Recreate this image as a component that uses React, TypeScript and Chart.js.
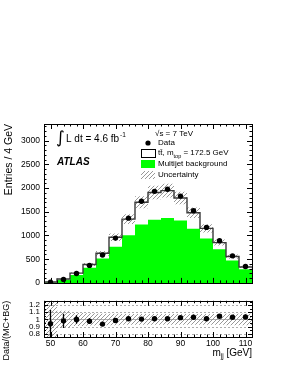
import React, { useEffect, useRef } from "react";
import { Chart, registerables } from "chart.js";

Chart.register(...registerables);

// ---------- data ----------
const binCenters = [50, 54, 58, 62, 66, 70, 74, 78, 82, 86, 90, 94, 98, 102, 106, 110];
const binWidth = 4;
const dataCounts = [16, 72, 199, 369, 588, 945, 1365, 1720, 1930, 1975, 1830, 1520, 1170, 890, 570, 345];
const totalPrediction = [18, 82, 207, 388, 625, 962, 1345, 1700, 1905, 1945, 1790, 1480, 1150, 850, 555, 335];
const multijetBackground = [8, 65, 165, 322, 514, 760, 1007, 1233, 1329, 1370, 1315, 1144, 938, 712, 473, 288];
const relUncertainty = [0.3, 0.12, 0.09, 0.085, 0.08, 0.08, 0.075, 0.075, 0.075, 0.075, 0.075, 0.075, 0.075, 0.075, 0.08, 0.08];
const ratioValues = [0.94, 0.98, 1.0, 0.975, 0.935, 0.985, 1.01, 1.005, 1.01, 1.01, 1.025, 1.03, 1.01, 1.045, 1.03, 1.035];
const ratioErrors = [0.19, 0.1, 0.06, 0.04, 0.025, 0.02, 0.015, 0.015, 0.015, 0.015, 0.015, 0.015, 0.02, 0.02, 0.025, 0.03];

const xTickValues = [50, 60, 70, 80, 90, 100, 110];
const yMainTickValues = [0, 500, 1000, 1500, 2000, 2500, 3000];
const yRatioTickValues = [0.8, 0.9, 1.0, 1.1, 1.2];

const FONT = '"Liberation Sans", Arial, Helvetica, sans-serif';

// histogram outline: left edge of first bin, then each bin's right edge ("after" stepping)
function stepPoints(vals: number[]) {
  const pts = [{ x: binCenters[0] - binWidth / 2, y: vals[0] }];
  binCenters.forEach((c, i) => pts.push({ x: c + binWidth / 2, y: vals[i] }));
  return pts;
}

function makeHatch(): CanvasPattern | string {
  const c = document.createElement("canvas");
  c.width = 4;
  c.height = 4;
  const g = c.getContext("2d");
  if (!g) return "#aaa";
  g.strokeStyle = "#8c8c8c";
  g.lineWidth = 0.9;
  g.beginPath();
  g.moveTo(0, 4);
  g.lineTo(4, 0);
  g.moveTo(-1, 1);
  g.lineTo(1, -1);
  g.moveTo(3, 5);
  g.lineTo(5, 3);
  g.stroke();
  return g.createPattern(c, "repeat") || "#aaa";
}

function drawFrameTicks(chart: any, cfg: { xMajor: number; xMinor: number; yMajor: number; yMinor: number; yMinorStep: number }) {
  const { ctx, chartArea } = chart;
  const xs = chart.scales.x;
  const ys = chart.scales.y;
  const { left, right, top, bottom } = chartArea;
  ctx.save();
  ctx.strokeStyle = "#000";
  ctx.lineWidth = 1;
  ctx.beginPath();
  for (let v = xs.min; v <= xs.max + 1e-9; v += 2) {
    const px = Math.round(xs.getPixelForValue(v)) + 0.5;
    const major = xTickValues.some((t) => Math.abs(t - v) < 1e-6);
    const len = major ? cfg.xMajor : cfg.xMinor;
    ctx.moveTo(px, bottom);
    ctx.lineTo(px, bottom - len);
    ctx.moveTo(px, top);
    ctx.lineTo(px, top + len);
  }
  const majors = ys.ticks.map((t: any) => t.value);
  const start = Math.ceil(ys.min / cfg.yMinorStep - 1e-9) * cfg.yMinorStep;
  for (let v = start; v <= ys.max + 1e-9; v += cfg.yMinorStep) {
    const py = Math.round(ys.getPixelForValue(v)) + 0.5;
    const major = majors.some((t: number) => Math.abs(t - v) < cfg.yMinorStep / 10);
    const len = major ? cfg.yMajor : cfg.yMinor;
    ctx.moveTo(left, py);
    ctx.lineTo(left + len, py);
    ctx.moveTo(right, py);
    ctx.lineTo(right - len, py);
  }
  ctx.stroke();
  ctx.strokeRect(Math.round(left) + 0.5, Math.round(top) + 0.5, Math.round(right - left), Math.round(bottom - top));
  ctx.restore();
}

export default function App() {
  const mainRef = useRef<HTMLCanvasElement>(null);
  const ratioRef = useRef<HTMLCanvasElement>(null);

  useEffect(() => {
    if (!mainRef.current || !ratioRef.current) return;
    const hatch = makeHatch();
    const upper = totalPrediction.map((v, i) => v * (1 + relUncertainty[i]));
    const lower = totalPrediction.map((v, i) => v * (1 - relUncertainty[i]));

    const mainDecor = {
      id: "mainDecor",
      afterDraw(chart: any) {
        drawFrameTicks(chart, { xMajor: 5, xMinor: 2.5, yMajor: 5, yMinor: 2.5, yMinorStep: 100 });
        const { ctx, chartArea } = chart;
        const L = chartArea.left;
        const T = chartArea.top;
        ctx.save();
        ctx.fillStyle = "#000";
        ctx.textBaseline = "middle";
        ctx.textAlign = "left";
        ctx.font = `17px "DejaVu Sans", ${FONT}`;
        ctx.fillText("\u222B", L + 12, T + 15);
        ctx.font = `10px ${FONT}`;
        const lumi = "L dt = 4.6 fb";
        ctx.fillText(lumi, L + 22, T + 15);
        const lw = ctx.measureText(lumi).width;
        ctx.font = `6.5px ${FONT}`;
        ctx.fillText("-1", L + 22 + lw + 1, T + 11);
        ctx.font = `italic bold 10px ${FONT}`;
        ctx.fillText("ATLAS", L + 13, T + 38);
        const lx = L + 97;
        ctx.font = `8px ${FONT}`;
        ctx.fillText("\u221As = 7 TeV", lx + 14, T + 10);
        ctx.beginPath();
        ctx.arc(lx + 7, T + 19, 2.6, 0, Math.PI * 2);
        ctx.fill();
        ctx.fillText("Data", lx + 17, T + 19);
        ctx.fillStyle = "#fff";
        ctx.fillRect(lx, T + 25, 14, 8);
        ctx.strokeStyle = "#000";
        ctx.lineWidth = 1;
        ctx.strokeRect(lx + 0.5, T + 25.5, 14, 8);
        ctx.fillStyle = "#000";
        let tx = lx + 17;
        ctx.fillText("tt\u0304, m", tx, T + 29);
        tx += ctx.measureText("tt\u0304, m").width;
        ctx.font = `5.5px ${FONT}`;
        ctx.fillText("top", tx, T + 32);
        tx += ctx.measureText("top").width;
        ctx.font = `8px ${FONT}`;
        ctx.fillText(" = 172.5 GeV", tx, T + 29);
        ctx.fillStyle = "#00ff00";
        ctx.fillRect(lx, T + 36, 14, 8);
        ctx.fillStyle = "#000";
        ctx.fillText("Multijet background", lx + 17, T + 40);
        ctx.fillStyle = hatch as any;
        ctx.fillRect(lx, T + 47, 14, 8);
        ctx.fillStyle = "#000";
        ctx.fillText("Uncertainty", lx + 17, T + 51);
        ctx.restore();
      },
    };

    const stepDs = (label: string, vals: number[], extra: any) => ({
      label,
      data: stepPoints(vals),
      stepped: "after",
      borderWidth: 0,
      borderColor: "rgba(0,0,0,0)",
      pointRadius: 0,
      fill: false,
      ...extra,
    });

    const mainChart = new Chart(mainRef.current, {
      type: "line",
      data: {
        datasets: [
          stepDs("Multijet background", multijetBackground, { backgroundColor: "#00ff00", fill: "origin", order: 4 }),
          stepDs("unc-low", lower, { order: 3 }),
          stepDs("Uncertainty", upper, { backgroundColor: hatch, fill: "-1", order: 2 }),
          stepDs("ttbar + multijet", totalPrediction, { borderWidth: 1.4, borderColor: "#3a3a3a", order: 1 }),
          {
            type: "scatter",
            label: "Data",
            data: binCenters.map((c, i) => ({ x: c, y: dataCounts[i] })),
            pointRadius: 2.7,
            pointBackgroundColor: "#000",
            pointBorderWidth: 0,
            showLine: false,
            order: 0,
          },
        ] as any,
      },
      options: {
        responsive: false,
        animation: false,
        events: [],
        layout: { padding: { left: 0, right: 31, top: 124, bottom: 5 } },
        plugins: { legend: { display: false }, tooltip: { enabled: false } },
        scales: {
          x: { type: "linear", min: 48, max: 112, display: false },
          y: {
            type: "linear",
            min: 0,
            max: 3350,
            afterBuildTicks: (s: any) => {
              s.ticks = yMainTickValues.map((v) => ({ value: v }));
            },
            afterFit: (s: any) => {
              s.width = 44;
            },
            grid: { display: false, drawTicks: false },
            border: { display: false },
            ticks: {
              padding: 4,
              autoSkip: false,
              color: "#000",
              font: { family: FONT, size: 8.5 },
              callback: (v: any) => String(v),
            },
            title: {
              display: true,
              text: "Entries / 4 GeV",
              align: "end",
              color: "#000",
              font: { family: FONT, size: 10.5 },
              padding: { top: 3, bottom: 0 },
            },
          },
        },
      } as any,
      plugins: [mainDecor],
    });

    const ratioDecor = {
      id: "ratioDecor",
      beforeDatasetsDraw(chart: any) {
        const { ctx, chartArea } = chart;
        const ys = chart.scales.y;
        ctx.save();
        ctx.strokeStyle = "#999";
        ctx.lineWidth = 0.8;
        yRatioTickValues.forEach((v) => {
          const py = Math.round(ys.getPixelForValue(v)) + 0.5;
          ctx.setLineDash(Math.abs(v - 1) < 1e-6 ? [] : [2, 2]);
          ctx.beginPath();
          ctx.moveTo(chartArea.left, py);
          ctx.lineTo(chartArea.right, py);
          ctx.stroke();
        });
        ctx.restore();
      },
      afterDatasetsDraw(chart: any) {
        const { ctx, chartArea } = chart;
        const xs = chart.scales.x;
        const ys = chart.scales.y;
        ctx.save();
        ctx.beginPath();
        ctx.rect(chartArea.left, chartArea.top, chartArea.right - chartArea.left, chartArea.bottom - chartArea.top);
        ctx.clip();
        ctx.strokeStyle = "#000";
        ctx.lineWidth = 1.3;
        ctx.beginPath();
        binCenters.forEach((c, i) => {
          const px = xs.getPixelForValue(c);
          ctx.moveTo(px, ys.getPixelForValue(ratioValues[i] - ratioErrors[i]));
          ctx.lineTo(px, ys.getPixelForValue(ratioValues[i] + ratioErrors[i]));
        });
        ctx.stroke();
        ctx.restore();
      },
      afterDraw(chart: any) {
        drawFrameTicks(chart, { xMajor: 5, xMinor: 2.5, yMajor: 4, yMinor: 2, yMinorStep: 0.05 });
        const { ctx, chartArea } = chart;
        ctx.save();
        ctx.fillStyle = "#000";
        ctx.textBaseline = "middle";
        ctx.textAlign = "right";
        const R = chartArea.right;
        const Y = chartArea.bottom + 16;
        ctx.font = `10px ${FONT}`;
        const unit = " [GeV]";
        ctx.fillText(unit, R, Y);
        let x = R - ctx.measureText(unit).width;
        ctx.font = `6.5px ${FONT}`;
        ctx.fillText("jj", x, Y + 3);
        x -= ctx.measureText("jj").width;
        ctx.font = `10px ${FONT}`;
        ctx.fillText("m", x, Y);
        ctx.restore();
      },
    };

    const ratioChart = new Chart(ratioRef.current, {
      type: "line",
      data: {
        datasets: [
          stepDs("unc-low", relUncertainty.map((u) => 1 - u), { order: 3 }),
          stepDs("Uncertainty", relUncertainty.map((u) => 1 + u), { backgroundColor: hatch, fill: "-1", order: 2 }),
          {
            type: "scatter",
            label: "Data/(MC+BG)",
            data: binCenters.map((c, i) => ({ x: c, y: ratioValues[i] })),
            pointRadius: 2.7,
            pointBackgroundColor: "#000",
            pointBorderWidth: 0,
            showLine: false,
            order: 0,
          },
        ] as any,
      },
      options: {
        responsive: false,
        animation: false,
        events: [],
        layout: { padding: { left: 0, right: 31, top: 3, bottom: 0 } },
        plugins: { legend: { display: false }, tooltip: { enabled: false } },
        scales: {
          x: {
            type: "linear",
            min: 48,
            max: 112,
            afterBuildTicks: (s: any) => {
              s.ticks = xTickValues.map((v) => ({ value: v }));
            },
            afterFit: (s: any) => {
              s.height = 29;
            },
            grid: { display: false, drawTicks: false },
            border: { display: false },
            ticks: {
              padding: 2,
              color: "#000",
              maxRotation: 0,
              autoSkip: false,
              font: { family: FONT, size: 8.5 },
              callback: (v: any) => String(v),
            },
          },
          y: {
            type: "linear",
            min: 0.755,
            max: 1.26,
            afterBuildTicks: (s: any) => {
              s.ticks = yRatioTickValues.map((v) => ({ value: v }));
            },
            afterFit: (s: any) => {
              s.width = 44;
            },
            grid: { display: false, drawTicks: false },
            border: { display: false },
            ticks: {
              padding: 4,
              autoSkip: false,
              color: "#000",
              font: { family: FONT, size: 8 },
              callback: (v: any) => String(Math.round(Number(v) * 10) / 10),
            },
            title: {
              display: true,
              text: "Data/(MC+BG)",
              align: "end",
              color: "#000",
              font: { family: FONT, size: 9 },
              padding: { top: 1, bottom: 0 },
            },
          },
        },
      } as any,
      plugins: [ratioDecor],
    });

    return () => {
      mainChart.destroy();
      ratioChart.destroy();
    };
  }, []);

  return (
    <div style={{ position: "absolute", left: 0, top: 0, width: 283, height: 366, background: "#fff" }}>
      <canvas ref={mainRef} width={283} height={292} style={{ position: "absolute", left: 0, top: 0, width: 283, height: 292 }} />
      <canvas ref={ratioRef} width={283} height={74} style={{ position: "absolute", left: 0, top: 292, width: 283, height: 74 }} />
    </div>
  );
}
